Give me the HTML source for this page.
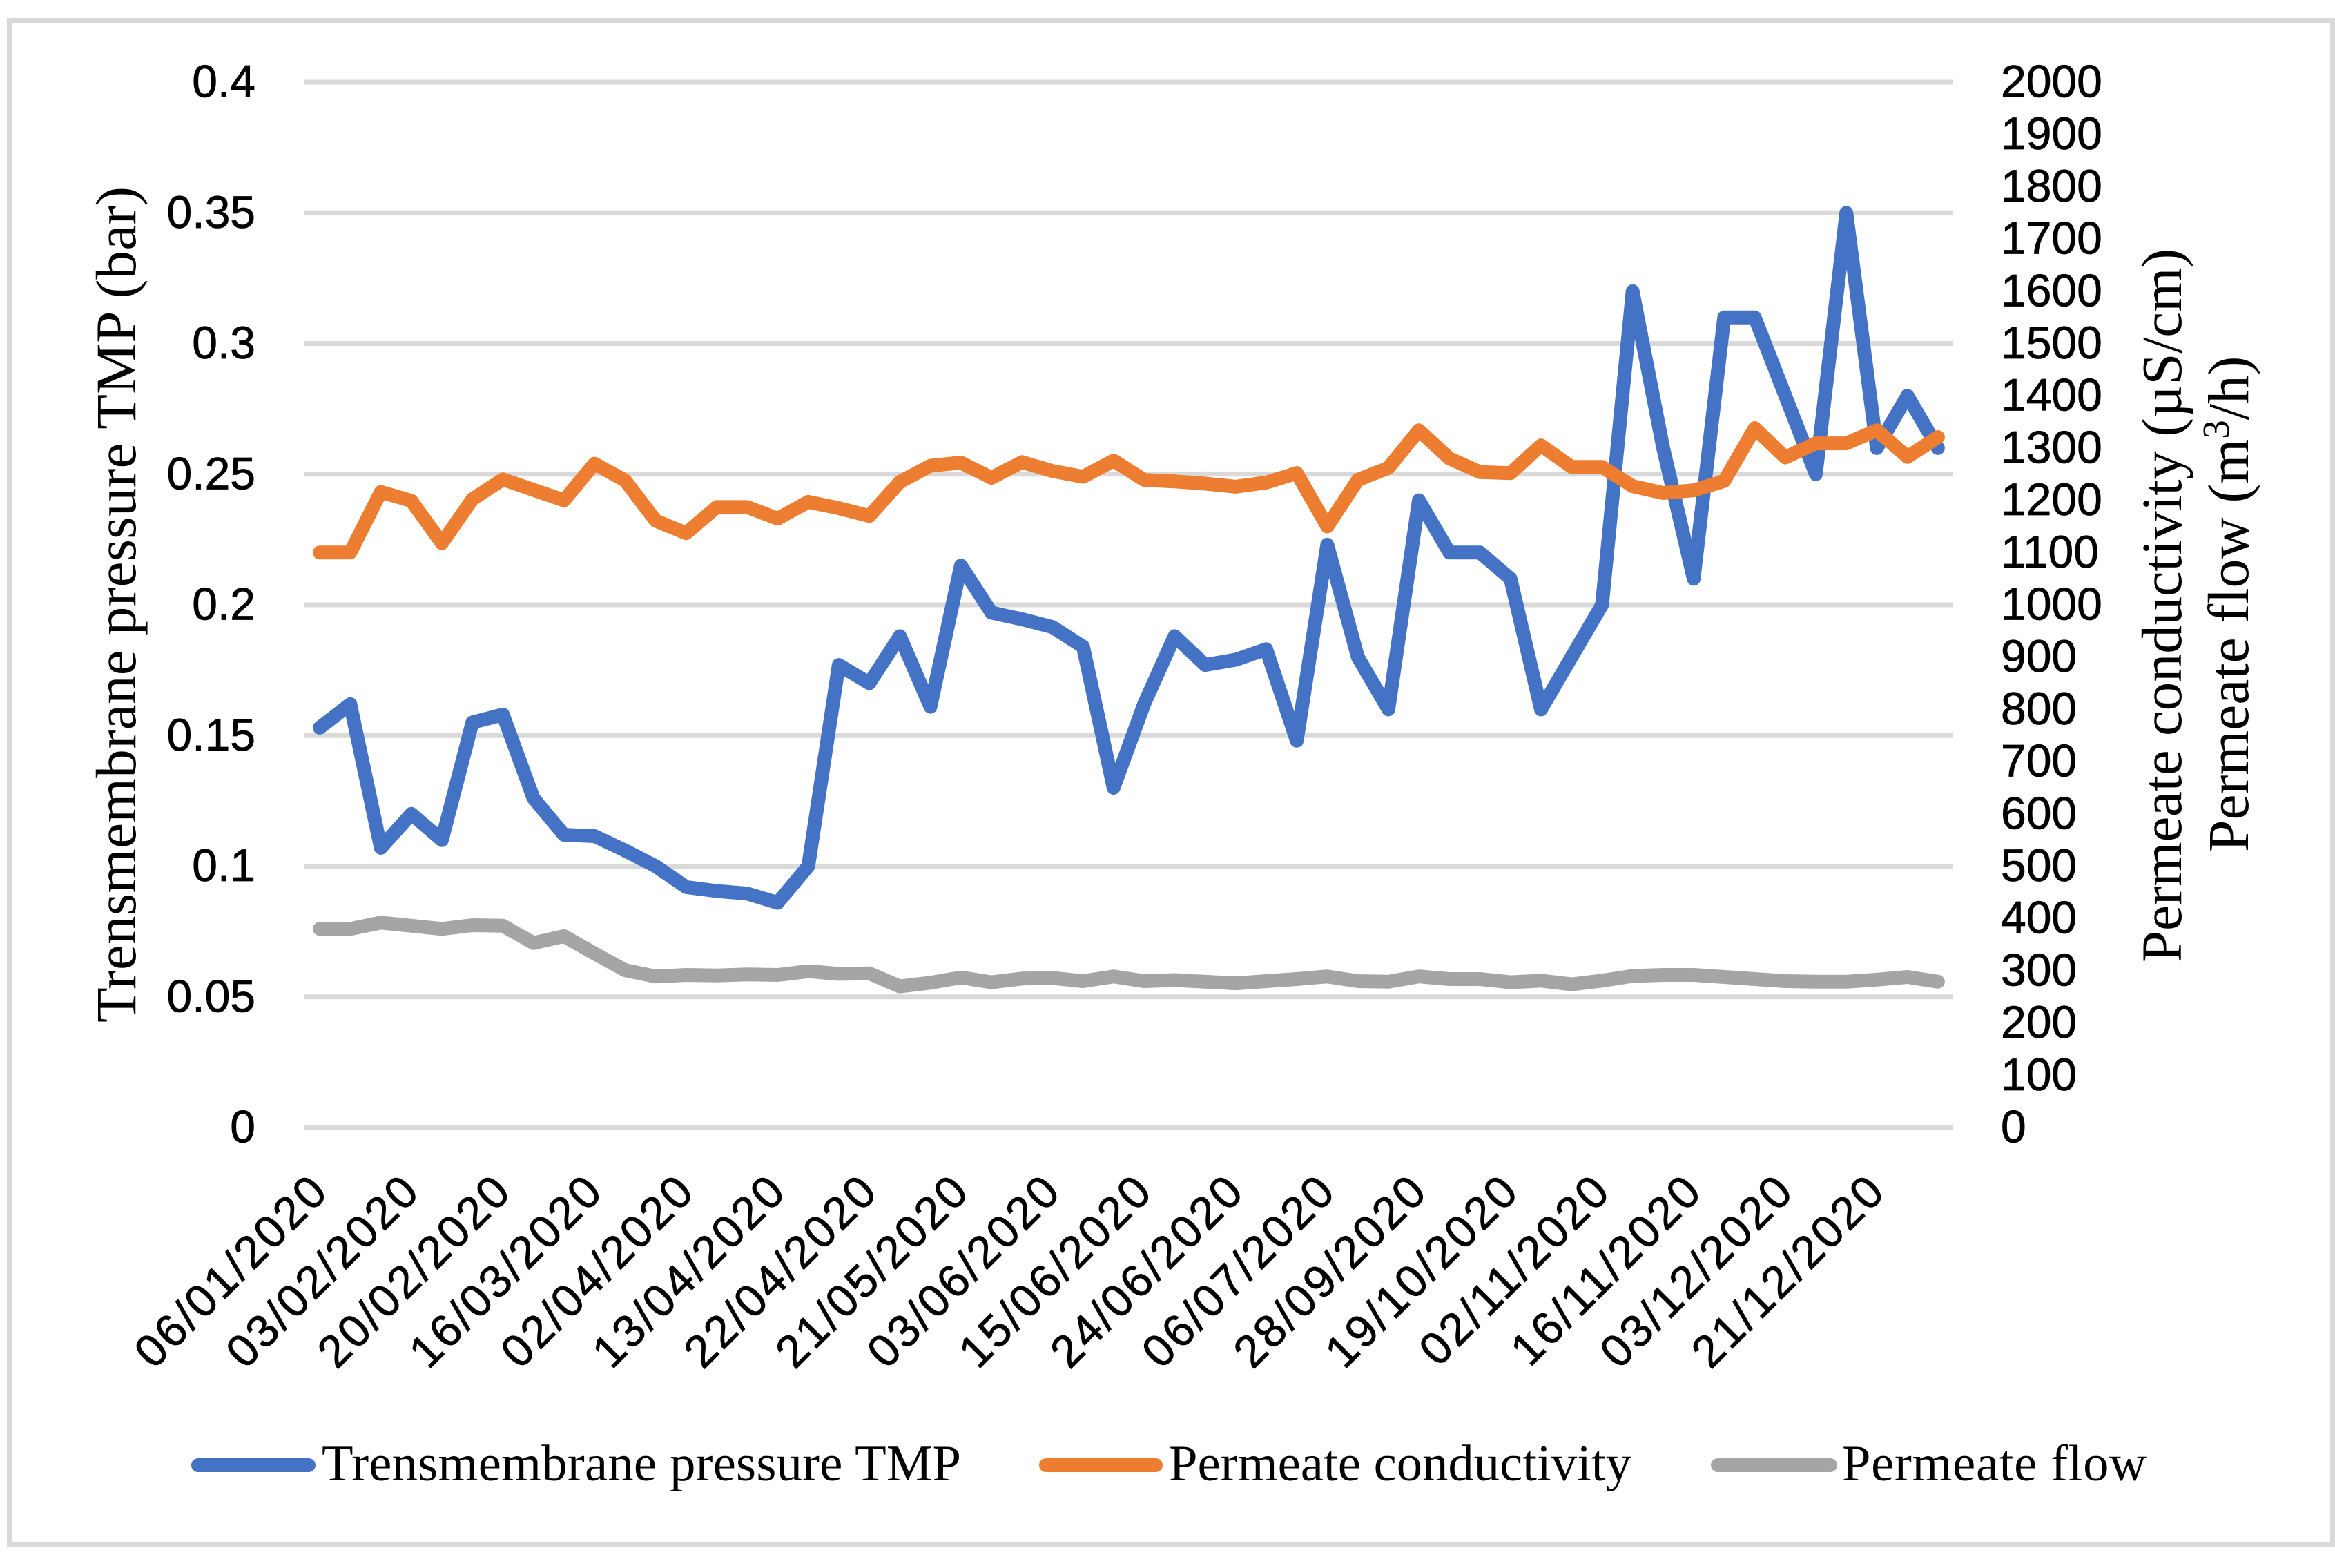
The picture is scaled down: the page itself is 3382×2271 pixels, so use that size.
<!DOCTYPE html>
<html lang="en">
<head>
<meta charset="utf-8">
<title>Membrane performance chart</title>
<style>
html,body{margin:0;padding:0;background:#fff;}
svg{display:block;}
.tick{font-family:"Liberation Sans",sans-serif;font-size:66px;fill:#000;stroke:#000;stroke-width:0.8px;}
.serif{font-family:"Liberation Serif",serif;fill:#000;}
</style>
</head>
<body>
<svg id="chart" xmlns="http://www.w3.org/2000/svg" width="3382" height="2271" viewBox="0 0 3382 2271">
  <rect x="0" y="0" width="3382" height="2271" fill="#ffffff"/>
  <rect x="13.5" y="29.5" width="3365" height="2208" fill="none" stroke="#d9d9d9" stroke-width="7"/>
  <g id="grid"></g>
  <g id="series"></g>
  <g id="left-ticks"></g>
  <g id="right-ticks"></g>
  <g id="x-ticks"></g>

  <text class="serif" font-size="83" transform="translate(196 1481) rotate(-90)" textLength="1211">Trensmembrane pressure TMP (bar)</text>
  <text class="serif" font-size="83" transform="translate(3159 1394) rotate(-90)" textLength="1034">Permeate conductivity (µS/cm)</text>
  <text class="serif" font-size="83.5" transform="translate(3256 1234) rotate(-90)">Permeate flow (m<tspan font-size="55" dy="-28">3</tspan><tspan dy="28">/h)</tspan></text>

  <g>
    <g>
      <rect x="277" y="2112" width="180" height="20" rx="10" fill="#4472c4"/>
      <text class="serif" font-size="74.6" x="466" y="2144" textLength="926">Trensmembrane pressure TMP</text>
    </g>
    <g>
      <rect x="1505" y="2112" width="179" height="20" rx="10" fill="#ed7d31"/>
      <text class="serif" font-size="74.6" x="1693" y="2144" textLength="670">Permeate conductivity</text>
    </g>
    <g>
      <rect x="2478" y="2112" width="183" height="20" rx="10" fill="#a5a5a5"/>
      <text class="serif" font-size="74.6" x="2668" y="2144" textLength="441">Permeate flow</text>
    </g>
  </g>
</svg>
<script>
const leftTickLabels = ["0","0.05","0.1","0.15","0.2","0.25","0.3","0.35","0.4"];
const rightTickLabels = ["0","100","200","300","400","500","600","700","800","900","1000","1100","1200","1300","1400","1500","1600","1700","1800","1900","2000"];
const dateLabels = ["06/01/2020","03/02/2020","20/02/2020","16/03/2020","02/04/2020","13/04/2020","22/04/2020","21/05/2020","03/06/2020","15/06/2020","24/06/2020","06/07/2020","28/09/2020","19/10/2020","02/11/2020","16/11/2020","03/12/2020","21/12/2020"];
const tmpValues = [0.153,0.162,0.107,0.12,0.11,0.155,0.158,0.126,0.112,0.1115,0.106,0.1,0.092,0.0905,0.0895,0.086,0.1,0.177,0.17,0.188,0.161,0.215,0.197,0.1945,0.1915,0.184,0.13,0.162,0.188,0.177,0.179,0.183,0.148,0.223,0.18,0.16,0.24,0.22,0.22,0.21,0.16,0.18,0.2,0.32,0.26,0.21,0.31,0.31,0.28,0.25,0.35,0.26,0.28,0.26];
const conductivityValues = [1100,1100,1216,1199,1118,1202,1240,1220,1200,1270,1238,1161,1137,1187,1187,1165,1197,1185,1170,1235,1266,1272,1243,1273,1256,1245,1276,1239,1236,1232,1226,1234,1252,1150,1239,1262,1334,1280,1254,1252,1305,1264,1264,1227,1214,1219,1237,1338,1282,1309,1309,1334,1283,1321];
const flowValues = [380,380,392,386,380,387,386,353,366,333,301,289,292,291,293,292,299,294,295,270,277,287,278,285,286,280,289,280,282,279,276,280,284,289,280,279,289,284,284,278,281,274,281,290,292,292,288,284,280,279,279,283,288,279];
const tickEvery = 3;

const svgNS = "http://www.w3.org/2000/svg";
const plotLeft = 441, plotRight = 2829, plotTop = 119, plotBottom = 1633;
const leftMax = 0.4, rightMax = 2000;

function xPos(i){ return plotLeft + (i + 0.5) * (plotRight - plotLeft) / tmpValues.length; }
function yLeft(v){ return plotBottom - v / leftMax * (plotBottom - plotTop); }
function yRight(v){ return plotBottom - v / rightMax * (plotBottom - plotTop); }
function make(tag, attrs, parentId){
  const el = document.createElementNS(svgNS, tag);
  for (const k in attrs) el.setAttribute(k, attrs[k]);
  document.getElementById(parentId).appendChild(el);
  return el;
}

leftTickLabels.forEach(function(label){
  const y = yLeft(Number(label));
  const line = make("rect", {x: plotLeft, y: y - 3.5, width: plotRight - plotLeft, height: 7, fill: "#d9d9d9"}, "grid");
  
  
  const t = make("text", {x: 370, y: y + 21.5, "text-anchor": "end", "class": "tick"}, "left-ticks");
  
  
  t.textContent = label;
});

rightTickLabels.forEach(function(label){
  const t = make("text", {x: 2898, y: yRight(Number(label)) + 21.5, "class": "tick"}, "right-ticks");
  
  
  t.textContent = label;
});

dateLabels.forEach(function(label, n){
  const bx = xPos(n * tickEvery) + 16, by = 1728;
  const t = make("text", {x: bx, y: by, "text-anchor": "end", "class": "tick", "letter-spacing": "3.3", transform: "rotate(-45 " + bx + " " + by + ")"}, "x-ticks");
  
  
  t.textContent = label;
});

function drawLine(values, yFn, color){
  const pts = values.map(function(v, i){ return xPos(i).toFixed(1) + "," + yFn(v).toFixed(1); }).join(" ");
  return make("polyline", {points: pts, fill: "none", stroke: color, "stroke-width": 20, "stroke-linejoin": "round", "stroke-linecap": "round"}, "series");
}
const tmpLine = drawLine(tmpValues, yLeft, "#4472c4");


const conductivityLine = drawLine(conductivityValues, yRight, "#ed7d31");


const flowLine = drawLine(flowValues, yRight, "#a5a5a5");


</script>
</body>
</html>
